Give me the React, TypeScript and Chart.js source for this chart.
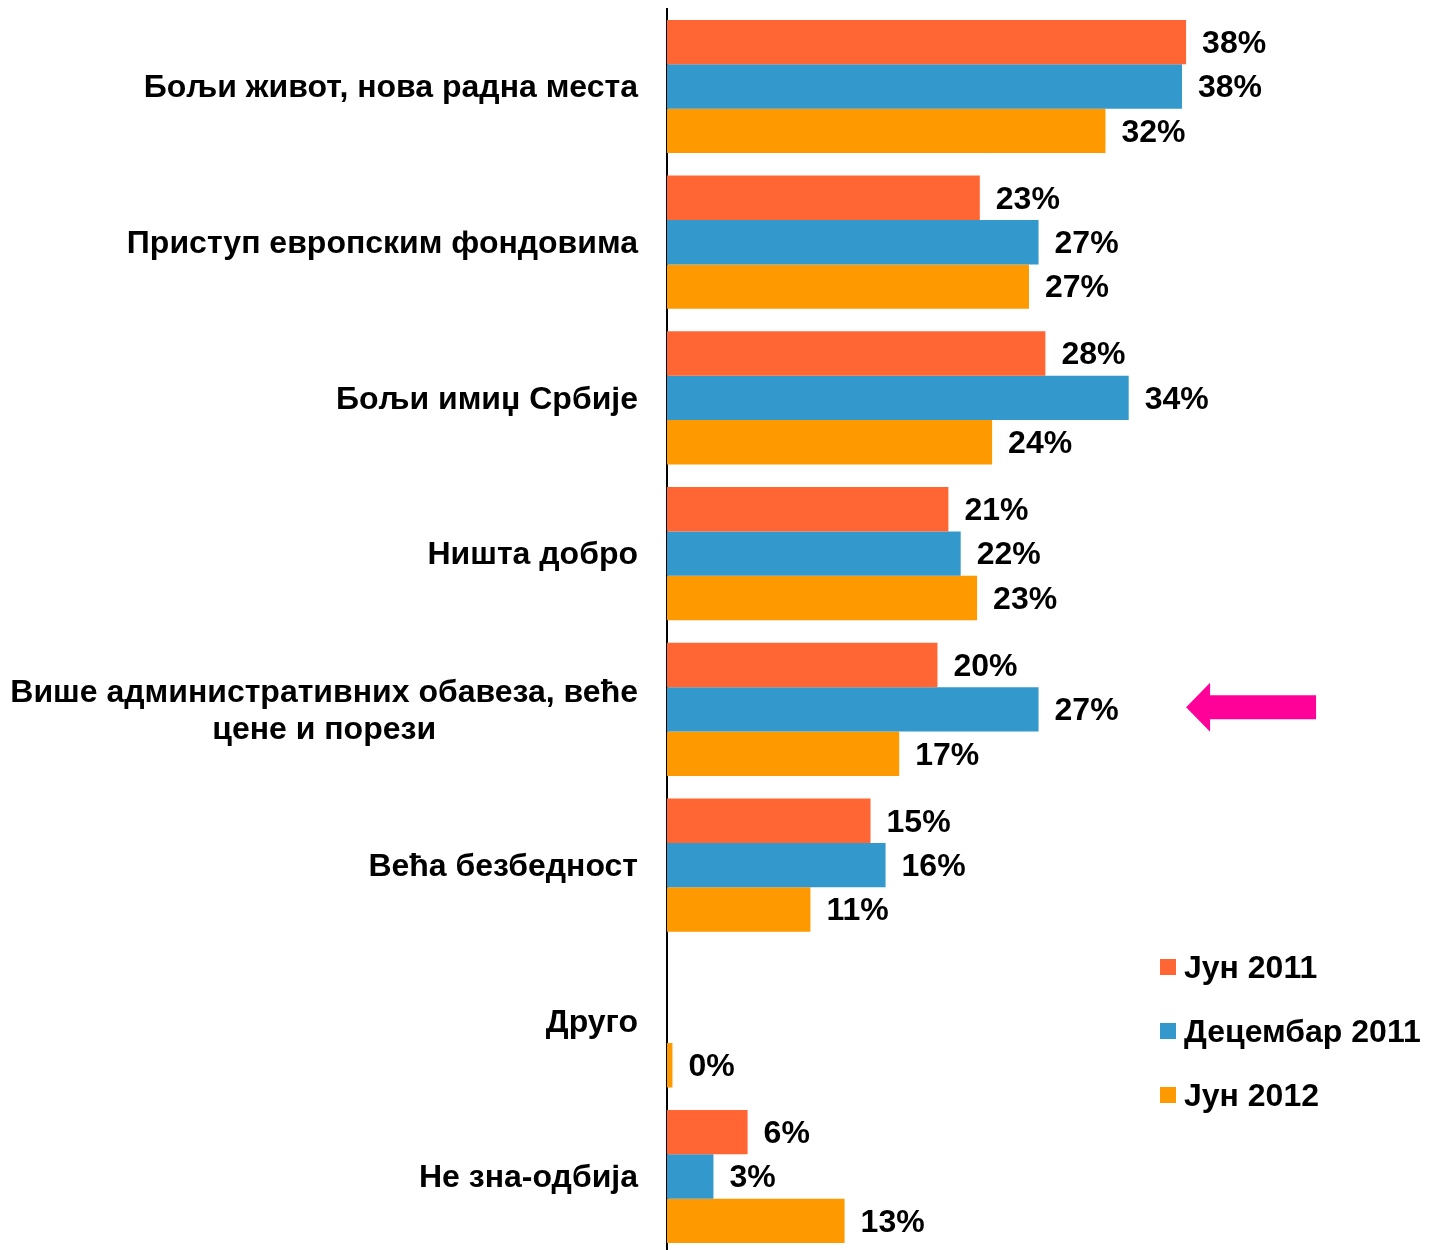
import React, { useEffect, useRef } from "react";
import { Chart, registerables } from "chart.js";

Chart.register(...registerables);

const categories: string[][] = [
  ["Бољи живот, нова радна места"],
  ["Приступ европским фондовима"],
  ["Бољи имиџ Србије"],
  ["Ништа добро"],
  ["Више административних обавеза, веће", "цене и порези"],
  ["Већа безбедност"],
  ["Друго"],
  ["Не зна-одбија"],
];
const seriesNames = ["Јун 2011", "Децембар 2011", "Јун 2012"];
const jun2011: (number | null)[] = [38.0, 22.9, 27.7, 20.6, 19.8, 14.9, null, 5.9];
const dec2011: (number | null)[] = [37.7, 27.2, 33.8, 21.5, 27.2, 16.0, null, 3.4];
const jun2012: (number | null)[] = [32.1, 26.5, 23.8, 22.7, 17.0, 10.5, 0.4, 13.0];
const highlightCategory = 4;
const highlightValue = 38;

const COLORS = ["#FF6633", "#3399CC", "#FF9900"];
const FONT = "'Liberation Sans', Arial, sans-serif";

const catLabelPlugin = {
  id: "catLabels",
  afterDraw(chart: any) {
    const ctx = chart.ctx;
    const y = chart.scales.y;
    const right = chart.chartArea.left - 29;
    ctx.save();
    ctx.font = `bold 32px ${FONT}`;
    ctx.fillStyle = "#000";
    ctx.textBaseline = "middle";
    ctx.textAlign = "center";
    const lh = 37;
    categories.forEach((lines, i) => {
      const cy = y.getPixelForValue(i) + 2;
      const w = Math.max(...lines.map((l) => ctx.measureText(l).width));
      const cx = right - w / 2;
      const y0 = cy - ((lines.length - 1) * lh) / 2;
      lines.forEach((l, j) => ctx.fillText(l, cx, y0 + j * lh));
    });
    ctx.restore();
  },
};

const valueLabelPlugin = {
  id: "valueLabels",
  afterDatasetsDraw(chart: any) {
    const ctx = chart.ctx;
    ctx.save();
    ctx.font = `bold 32px ${FONT}`;
    ctx.fillStyle = "#000";
    ctx.textBaseline = "middle";
    ctx.textAlign = "left";
    chart.data.datasets.forEach((ds: any, di: number) => {
      const meta = chart.getDatasetMeta(di);
      meta.data.forEach((el: any, i: number) => {
        const v = ds.data[i];
        if (v === null || v === undefined) return;
        ctx.fillText(`${Math.round(v)}%`, el.x + 16, el.y + 2);
      });
    });
    ctx.restore();
  },
};

const legendPlugin = {
  id: "customLegend",
  afterDraw(chart: any) {
    const ctx = chart.ctx;
    ctx.save();
    ctx.font = `bold 32px ${FONT}`;
    ctx.textBaseline = "middle";
    ctx.textAlign = "left";
    const x = 1160;
    const y0 = 967;
    seriesNames.forEach((name, i) => {
      const cy = y0 + i * 64;
      ctx.fillStyle = COLORS[i];
      ctx.fillRect(x, cy - 8, 16, 16);
      ctx.fillStyle = "#000";
      ctx.fillText(name, x + 24, cy + 2);
    });
    ctx.restore();
  },
};

const arrowPlugin = {
  id: "arrow",
  afterDraw(chart: any) {
    const ctx = chart.ctx;
    const meta = chart.getDatasetMeta(1);
    const el = meta.data[highlightCategory];
    const tx = chart.scales.x.getPixelForValue(highlightValue);
    const ty = el.y - 2;
    ctx.save();
    ctx.fillStyle = "#FF0099";
    ctx.beginPath();
    ctx.moveTo(tx, ty);
    ctx.lineTo(tx + 24, ty - 24.5);
    ctx.lineTo(tx + 24, ty - 12);
    ctx.lineTo(tx + 130, ty - 12);
    ctx.lineTo(tx + 130, ty + 12);
    ctx.lineTo(tx + 24, ty + 12);
    ctx.lineTo(tx + 24, ty + 24.5);
    ctx.closePath();
    ctx.fill();
    ctx.restore();
  },
};

export default function App() {
  const ref = useRef<HTMLCanvasElement | null>(null);
  useEffect(() => {
    if (!ref.current) return;
    const chart = new Chart(ref.current, {
      type: "bar",
      data: {
        labels: categories.map((c) => c.join(" ")),
        datasets: [jun2011, dec2011, jun2012].map((d, i) => ({
          label: seriesNames[i],
          data: d,
          backgroundColor: COLORS[i],
          borderWidth: 0,
          categoryPercentage: 0.855,
          barPercentage: 1,
        })),
      },
      options: {
        indexAxis: "y",
        responsive: false,
        animation: false,
        layout: { padding: { top: 8.6, bottom: 7.6, left: 0, right: 79 } },
        scales: {
          x: { display: false, min: 0, max: 50 },
          y: {
            grid: { display: false, drawTicks: false },
            border: { display: true, color: "#000", width: 2 },
            ticks: { display: false },
            afterFit: (s: any) => {
              s.width = 667;
            },
          },
        },
        plugins: { legend: { display: false }, tooltip: { enabled: false } },
      },
      plugins: [catLabelPlugin, valueLabelPlugin, legendPlugin, arrowPlugin],
    } as any);
    return () => chart.destroy();
  }, []);
  return (
    <div
      style={{
        position: "absolute",
        left: 0,
        top: 0,
        width: 1429,
        height: 1250,
        overflow: "hidden",
        background: "#fff",
      }}
    >
      <canvas ref={ref} width={1429} height={1262} style={{ width: 1429, height: 1262, display: "block" }} />
    </div>
  );
}
